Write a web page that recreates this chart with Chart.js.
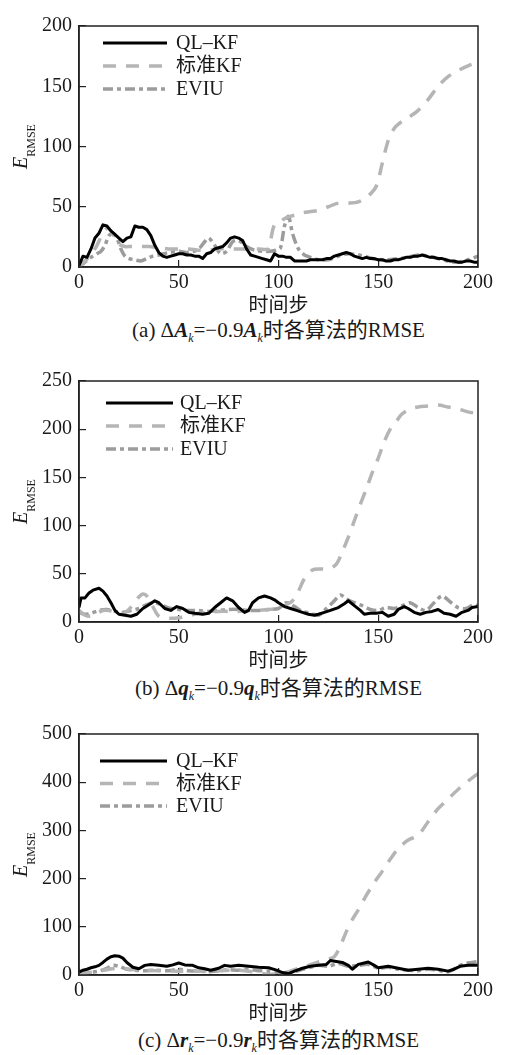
<!DOCTYPE html>
<html>
<head>
<meta charset="utf-8">
<script src="https://cdn.jsdelivr.net/npm/chart.js@4/dist/chart.umd.min.js"></script>
<style>
  html, body { margin: 0; padding: 0; background: #fff; }
  #wrap { position: relative; width: 508px; height: 1055px; overflow: hidden; }
  canvas { position: absolute; left: 0; }
  .cap { position: absolute; left: 79px; width: 399px; text-align: center;
         font-family: 'Liberation Serif', 'Noto Sans CJK SC', serif; font-size: 21px;
         line-height: 24px; color: #1a1a1a; white-space: nowrap; }
  .cap sub { font-size: 12px; vertical-align: baseline; position: relative; top: 5px; }
</style>
</head>
<body>
<div id="wrap">
  <canvas id="chA" width="508" height="318" style="top:0px"></canvas>
  <canvas id="chB" width="508" height="318" style="top:355px"></canvas>
  <canvas id="chC" width="508" height="318" style="top:708px"></canvas>
  <div class="cap" style="top:318px">(a) Δ<b><i>A</i></b><sub><i>k</i></sub>=−0.9<b><i>A</i></b><sub><i>k</i></sub>时各算法的RMSE</div>
  <div class="cap" style="top:676px">(b) Δ<b><i>q</i></b><sub><i>k</i></sub>=−0.9<b><i>q</i></b><sub><i>k</i></sub>时各算法的RMSE</div>
  <div class="cap" style="top:1028px">(c) Δ<b><i>r</i></b><sub><i>k</i></sub>=−0.9<b><i>r</i></b><sub><i>k</i></sub>时各算法的RMSE</div>
</div>
<script>
// ---------- labels ----------
const seriesNames = ['QL\u2013KF', '标准KF', 'EVIU'];
const xTitle = '时间步';
const xTicks = [0, 50, 100, 150, 200];
const yTicksA = [0, 50, 100, 150, 200];
const yTicksB = [0, 50, 100, 150, 200, 250];
const yTicksC = [0, 100, 200, 300, 400, 500];

// ---------- chart (a) ----------
const stepsA_ql = [0,2,4,6,8,10,12,14,16,18,20,22,24,26,28,30,32,34,36,38,40,42,44,46,48,50,52,54,56,58,60,62,64,66,68,70,72,74,76,78,80,82,84,86,88,90,92,94,96,98,100,102,104,106,108,110,112,114,116,118,120,122,124,126,128,130,132,134,136,138,140,142,144,146,148,150,152,154,156,158,160,162,164,166,168,170,172,174,176,178,180,182,184,186,188,190,192,194,196,198,200];
const valsA_ql = [1,9,8,15,24,28,35,34,30,27,24,21,24,25,34,33,33,31,26,18,12,9,8,9,10,11,11,10,10,9,9,7,11,12,15,16,17,20,24,25,24,22,15,10,9,8,7,6,5,11,9,9,8,8,5,5,5,5,6,6,6,6,7,7,9,10,11,12,11,9,8,7,8,7,7,6,6,5,5,6,6,7,8,8,9,9,10,9,8,8,7,7,6,5,5,4,4,5,5,4,4];
const stepsA_kf = [0,3,6,9,12,14,16,18,20,23,26,30,35,40,45,50,55,60,65,70,75,80,85,90,95,96,98,101,104,108,112,116,120,125,130,135,140,145,149,152,155,158,162,166,170,175,180,185,190,195,200];
const valsA_kf = [0,5,10,18,28,32,30,24,19,17,17,17,17,16,15,15,15,14,14,15,15,15,15,15,15,22,35,38,41,43,45,46,47,50,53,53,54,59,67,86,105,115,121,125,130,139,150,158,163,167,170];
const stepsA_ev = [0,3,6,9,11,13,15,17,19,21,23,25,28,31,34,37,40,45,50,55,60,63,65,68,71,74,77,80,84,88,92,96,99,101,103,105,107,110,113,116,120,125,130,135,140,145,150,155,160,165,170,175,180,185,190,195,200];
const valsA_ev = [0,4,8,11,13,18,26,28,24,15,9,7,6,5,7,9,10,12,13,12,15,21,24,18,11,13,21,22,17,14,13,13,14,16,34,42,28,15,10,8,6,6,9,11,10,8,6,6,7,8,10,9,7,5,4,6,9];

// ---------- chart (b) ----------
const stepsB_ql = [0,1,3,5,7,10,12,14,16,18,20,23,26,29,32,35,38,40,43,46,49,52,55,58,62,65,68,71,74,77,80,83,85,87,90,93,96,98,100,103,106,109,112,115,118,120,123,126,130,133,135,138,141,143,146,149,152,155,158,160,163,165,168,171,174,177,180,183,186,189,192,195,197,200];
const valsB_ql = [15,25,25,30,33,35,32,27,20,12,8,7,6,8,14,18,22,20,14,12,16,14,10,9,8,9,15,20,25,22,15,10,12,20,25,27,25,23,20,16,14,12,10,8,7,8,10,12,15,19,22,17,12,8,9,9,10,6,8,13,16,14,10,8,10,11,13,9,8,6,10,12,15,16];
const stepsB_kf = [0,3,6,9,12,15,18,21,24,27,30,32,34,37,40,44,48,52,56,60,65,70,75,80,85,90,95,100,104,107,110,113,117,121,125,129,132,135,138,141,144,147,150,153,156,159,162,166,170,175,180,185,190,195,200];
const valsB_kf = [12,7,6,9,12,12,10,8,11,18,26,29,27,16,6,4,4,5,7,9,10,11,11,11,12,12,13,14,18,22,32,45,54,55,55,60,73,88,105,122,138,155,170,187,200,208,216,221,223,224,225,223,221,218,216];
const stepsB_ev = [0,3,6,10,14,18,22,26,30,34,38,42,46,50,55,60,65,70,75,80,85,90,95,100,104,108,112,116,120,124,128,131,134,138,142,146,150,154,158,162,166,170,174,178,182,186,190,194,198,200];
const valsB_ev = [10,8,9,12,13,11,10,12,14,18,20,17,14,13,12,12,11,12,13,13,12,12,13,14,20,16,11,9,7,14,22,28,24,20,17,13,12,15,14,17,20,15,12,20,27,21,15,14,18,17];

// ---------- chart (c) ----------
const stepsC_ql = [0,2,4,6,8,10,12,14,16,18,20,22,24,27,30,33,36,40,44,47,50,53,57,60,63,66,70,73,76,80,85,90,95,99,102,105,108,112,116,120,124,126,129,132,135,137,140,143,145,148,150,155,160,165,170,175,180,185,188,191,195,200];
const valsC_ql = [6,10,12,15,17,20,26,33,38,40,39,35,26,16,13,20,22,20,18,21,25,21,20,15,13,10,14,20,18,20,18,16,15,10,5,3,8,14,18,20,22,30,28,26,20,12,22,25,27,20,15,18,14,10,12,14,12,8,12,18,20,20];
const stepsC_kf = [0,5,10,15,20,25,30,40,50,60,70,80,90,95,100,105,110,115,120,125,128,131,134,137,140,144,148,152,156,160,165,170,175,180,185,190,195,200];
const valsC_kf = [3,5,8,12,14,12,10,9,8,8,9,10,5,1,3,7,14,20,27,33,38,60,90,115,135,165,192,215,240,262,280,290,318,345,365,385,402,418];
const stepsC_ev = [0,5,10,14,17,20,24,28,33,38,45,50,55,60,65,70,75,80,85,90,95,100,104,108,112,116,120,125,130,135,140,145,150,155,160,165,170,175,180,184,187,190,194,197,200];
const valsC_ev = [2,5,8,14,20,18,12,10,9,10,9,12,9,8,7,9,11,10,12,9,8,5,2,6,12,16,20,18,24,18,20,22,14,16,12,10,9,12,10,6,10,18,24,26,28];

// ---------- styling ----------
const FONT = "'Liberation Serif', 'Noto Sans CJK SC', serif";
const TXT = '#1a1a1a';
const styles = [
  { borderColor: '#000000', borderWidth: 3, borderDash: [] },
  { borderColor: '#b5b5b5', borderWidth: 3.5, borderDash: [13, 10] },
  { borderColor: '#9c9c9c', borderWidth: 3.5, borderDash: [10, 4, 4, 4] }
];

function pts(xs, ys) { return xs.map((x, i) => ({ x: x, y: ys[i] })); }

const framePlugin = {
  id: 'frameLegend',
  afterDatasetsDraw(chart, args, opts) {
    const ctx = chart.ctx, a = chart.chartArea;
    ctx.save();
    // plot frame
    ctx.strokeStyle = '#222';
    ctx.lineWidth = 1.5;
    ctx.setLineDash([]);
    ctx.strokeRect(a.left, a.top, a.right - a.left, a.bottom - a.top);
    // legend
    const lg = opts.legend;
    ctx.font = '20px ' + FONT;
    ctx.textBaseline = 'middle';
    ctx.textAlign = 'left';
    chart.data.datasets.forEach((ds, i) => {
      const y = a.top + lg.y0 + i * lg.dy;
      const x1 = a.left + lg.x0, x2 = x1 + lg.len;
      ctx.strokeStyle = ds.borderColor;
      ctx.lineWidth = ds.borderWidth;
      ctx.setLineDash(ds.borderDash || []);
      ctx.beginPath(); ctx.moveTo(x1, y); ctx.lineTo(x2, y); ctx.stroke();
      ctx.setLineDash([]);
      ctx.fillStyle = TXT;
      ctx.fillText(ds.label, x2 + lg.gap, y + 1);
    });
    // y-axis title E_RMSE
    const cy = (a.top + a.bottom) / 2;
    ctx.translate(opts.yTitleX, cy);
    ctx.rotate(-Math.PI / 2);
    ctx.textBaseline = 'alphabetic';
    ctx.fillStyle = TXT;
    ctx.font = 'italic 20px ' + FONT;
    const wE = ctx.measureText('E').width;
    ctx.font = '12px ' + FONT;
    const wR = ctx.measureText('RMSE').width;
    const sx = -(wE + wR) / 2;
    ctx.font = 'italic 20px ' + FONT;
    ctx.fillText('E', sx, 0);
    ctx.font = '12px ' + FONT;
    ctx.fillText('RMSE', sx + wE, 8);
    ctx.restore();
  }
};

function makeChart(id, series, yTicks, legendPos) {
  const datasets = series.map((s, i) => Object.assign({
    label: seriesNames[i],
    data: pts(s[0], s[1]),
    pointRadius: 0,
    fill: false,
    tension: i === 0 ? 0 : 0.3,
    borderCapStyle: 'butt',
    borderJoinStyle: 'round'
  }, styles[i]));
  datasets.forEach((d, i) => { d.order = i; });
  const tickFont = { family: FONT, size: 20 };
  return new Chart(document.getElementById(id), {
    type: 'line',
    data: { datasets: datasets },
    options: {
      responsive: false,
      animation: false,
      events: [],
      layout: { padding: { top: 17, right: 30, left: 0, bottom: 0 } },
      plugins: {
        legend: { display: false },
        tooltip: { enabled: false },
        frameLegend: { legend: legendPos, yTitleX: 27 }
      },
      scales: {
        x: {
          type: 'linear', min: xTicks[0], max: xTicks[xTicks.length - 1],
          afterBuildTicks: (s) => { s.ticks = xTicks.map(v => ({ value: v })); },
          ticks: { font: tickFont, color: TXT, padding: 11, maxRotation: 0, autoSkip: false },
          grid: { drawOnChartArea: false, drawTicks: true, tickLength: -7, color: '#222', lineWidth: 1.2 },
          border: { display: true, color: '#222', width: 1.5 },
          title: { display: true, text: xTitle, font: { family: FONT, size: 20, lineHeight: 1.0 }, color: TXT, padding: { top: 0, bottom: 1 } },
          afterFit: (s) => { s.height = 51; }
        },
        y: {
          type: 'linear', min: yTicks[0], max: yTicks[yTicks.length - 1],
          afterBuildTicks: (s) => { s.ticks = yTicks.map(v => ({ value: v })); },
          ticks: { font: tickFont, color: TXT, padding: 14, autoSkip: false },
          grid: { drawOnChartArea: false, drawTicks: true, tickLength: -7, color: '#222', lineWidth: 1.2 },
          border: { display: true, color: '#222', width: 1.5 },
          afterFit: (s) => { s.width = 79; }
        }
      }
    },
    plugins: [framePlugin]
  });
}

makeChart('chA', [[stepsA_ql, valsA_ql], [stepsA_kf, valsA_kf], [stepsA_ev, valsA_ev]], yTicksA,
  { x0: 24, y0: 17, dy: 23, len: 64, gap: 9 });
makeChart('chB', [[stepsB_ql, valsB_ql], [stepsB_kf, valsB_kf], [stepsB_ev, valsB_ev]], yTicksB,
  { x0: 27, y0: 22, dy: 23, len: 67, gap: 7 });
makeChart('chC', [[stepsC_ql, valsC_ql], [stepsC_kf, valsC_kf], [stepsC_ev, valsC_ev]], yTicksC,
  { x0: 21, y0: 27, dy: 22.5, len: 67, gap: 9 });
</script>
</body>
</html>
